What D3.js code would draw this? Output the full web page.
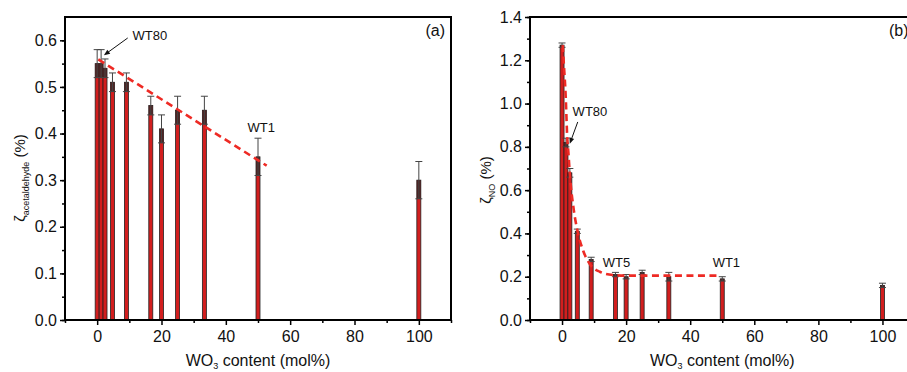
<!DOCTYPE html>
<html>
<head>
<meta charset="utf-8">
<script src="https://cdn.jsdelivr.net/npm/d3@7"></script>
<style>
  body { margin: 0; background: #fff; }
  text { font-family: Arial, 'Liberation Sans', sans-serif; }
</style>
</head>
<body>
<svg width="907" height="372"></svg>
<script>
// WO3 content of the samples (mol%)
const wo3 = [0, 1.23, 2.44, 4.76, 9.09, 16.67, 20, 25, 33.33, 50, 100];

// panel (a): acetaldehyde efficiency
const acetaldehyde = [0.55, 0.55, 0.54, 0.51, 0.51, 0.46, 0.41, 0.45, 0.45, 0.35, 0.30];
const acetaldehydeErr = [0.03, 0.03, 0.02, 0.02, 0.02, 0.02, 0.03, 0.03, 0.03, 0.04, 0.04];
const acetTrend = [[0.35, 0.559], [52.7, 0.331]];

// panel (b): NO efficiency
const no = [1.27, 0.82, 0.68, 0.41, 0.28, 0.21, 0.20, 0.22, 0.20, 0.19, 0.16];
const noErr = [0.01, 0.02, 0.02, 0.01, 0.01, 0.01, 0.01, 0.01, 0.02, 0.01, 0.01];
const noTrend = [[0.2, 1.27], [0.53, 1.19], [1.15, 1.03], [1.6, 0.85], [2.0, 0.77], [2.4, 0.68],
  [3.65, 0.51], [4.7, 0.42], [6.6, 0.32], [8.6, 0.26], [11.8, 0.223], [15.9, 0.208],
  [20, 0.205], [49, 0.205]];

const xTicks = [0, 20, 40, 60, 80, 100];
const xMinor = [-10, 10, 30, 50, 70, 90, 110];

const svg = d3.select('svg');
const red = '#d21e1e';
const dashRed = '#ee2a24';

function drawPanel(o) {
  const x = d3.scaleLinear().domain([-10, 110]).range([o.left, o.right]);
  const y = d3.scaleLinear().domain([0, o.ymax]).range([320, 17]);
  const g = svg.append('g');

  // bars
  g.append('g').selectAll('rect')
      .data(o.values)
      .join('rect')
      .attr('x', (d, i) => x(wo3[i]) - 2)
      .attr('y', d => y(d))
      .attr('width', 4)
      .attr('height', d => y(0) - y(d))
      .attr('fill', red)
      .attr('stroke', '#222')
      .attr('stroke-width', 0.8);

  // error bars
  const eb = g.append('g').selectAll('g')
      .data(o.values.map((v, i) => ({x: wo3[i], v, e: o.errs[i]})))
      .join('g');
  eb.append('rect')
      .attr('x', d => x(d.x) - 2)
      .attr('y', d => y(d.v))
      .attr('width', 4)
      .attr('height', d => y(d.v - d.e) - y(d.v))
      .attr('fill', '#3b2626')
      .attr('opacity', 0.85);
  eb.append('line')
      .attr('x1', d => x(d.x)).attr('x2', d => x(d.x))
      .attr('y1', d => y(d.v - d.e)).attr('y2', d => y(d.v + d.e))
      .attr('stroke', '#444').attr('stroke-width', 1);
  for (const s of [-1, 1]) {
    eb.append('line')
        .attr('x1', d => x(d.x) - 3.5).attr('x2', d => x(d.x) + 3.5)
        .attr('y1', d => y(d.v + s * d.e)).attr('y2', d => y(d.v + s * d.e))
        .attr('stroke', '#444').attr('stroke-width', 1);
  }

  // dashed trend
  g.append('path')
      .datum(o.trend)
      .attr('fill', 'none')
      .attr('stroke', dashRed)
      .attr('stroke-width', 2.6)
      .attr('stroke-dasharray', '7,4.5')
      .attr('d', d3.line().x(d => x(d[0])).y(d => y(d[1])).curve(d3.curveMonotoneX));

  // axes
  const xa = g.append('g').attr('transform', 'translate(0,320)')
      .call(d3.axisBottom(x).tickValues(xTicks).tickSize(5).tickPadding(6));
  const xm = g.append('g').attr('transform', 'translate(0,320)')
      .call(d3.axisBottom(x).tickValues(xMinor).tickSize(3).tickFormat(''));
  const ya = g.append('g').attr('transform', `translate(${o.left},0)`)
      .call(d3.axisLeft(y).tickValues(o.yTicks).tickFormat(d3.format('.1f')).tickSize(5).tickPadding(3));
  const ym = g.append('g').attr('transform', `translate(${o.left},0)`)
      .call(d3.axisLeft(y).tickValues(o.yMinor).tickSize(3).tickFormat(''));
  for (const a of [xa, xm, ya, ym]) {
    a.select('.domain').remove();
    a.selectAll('line').attr('stroke', '#000').attr('stroke-width', 1.5);
    a.selectAll('text').attr('font-size', 16).attr('fill', '#111')
        .attr('font-family', "Arial, 'Liberation Sans', sans-serif");
  }

  // frame
  g.append('rect')
      .attr('x', o.left).attr('y', 17)
      .attr('width', o.right - o.left).attr('height', 303)
      .attr('fill', 'none').attr('stroke', '#000').attr('stroke-width', 2);

  // x title
  const xt = g.append('text')
      .attr('x', (o.left + o.right) / 2).attr('y', 366)
      .attr('text-anchor', 'middle').attr('font-size', 16).attr('fill', '#111');
  xt.append('tspan').text('WO');
  xt.append('tspan').attr('font-size', 9).attr('dy', 3).text('3');
  xt.append('tspan').attr('dy', -3).text(' content (mol%)');

  // y title
  const yt = g.append('text')
      .attr('transform', `translate(${o.yLabelX},${o.yLabelY}) rotate(-90)`)
      .attr('text-anchor', 'middle').attr('font-size', 15).attr('fill', '#111');
  yt.append('tspan').text('ζ');
  yt.append('tspan').attr('font-size', 9).attr('dy', 4).text(o.sub);
  yt.append('tspan').attr('dy', -4).text(' (%)');

  // panel letter
  g.append('text')
      .attr('x', o.right - 6).attr('y', 36)
      .attr('text-anchor', 'end').attr('font-size', 16).attr('fill', '#111')
      .text(o.letter);

  // annotations
  g.append('g').selectAll('text')
      .data(o.notes)
      .join('text')
      .attr('x', d => x(d.x)).attr('y', d => y(d.y))
      .attr('text-anchor', d => d.anchor || 'start')
      .attr('font-size', 13).attr('fill', '#111')
      .text(d => d.text);

  const a = o.arrow;
  const x1 = x(a[0][0]), y1 = y(a[0][1]), x2 = x(a[1][0]), y2 = y(a[1][1]);
  const ang = Math.atan2(y2 - y1, x2 - x1);
  g.append('line')
      .attr('x1', x1).attr('y1', y1)
      .attr('x2', x2 - 4 * Math.cos(ang)).attr('y2', y2 - 4 * Math.sin(ang))
      .attr('stroke', '#111').attr('stroke-width', 1);
  const hl = 6, hw = 2.5;
  const bx = x2 - hl * Math.cos(ang), by = y2 - hl * Math.sin(ang);
  g.append('path')
      .attr('d', `M${x2},${y2}L${bx + hw * Math.sin(ang)},${by - hw * Math.cos(ang)}L${bx - hw * Math.sin(ang)},${by + hw * Math.cos(ang)}Z`)
      .attr('fill', '#111');
}

drawPanel({
  left: 65, right: 451, ymax: 0.65,
  yTicks: d3.range(0, 7).map(i => i / 10),
  yMinor: d3.range(0, 13).map(i => i * 0.05),
  values: acetaldehyde, errs: acetaldehydeErr, trend: acetTrend,
  sub: 'acetaldehyde', yLabelX: 25, yLabelY: 178, letter: '(a)',
  notes: [{x: 11, y: 0.60, text: 'WT80'}, {x: 51, y: 0.403, text: 'WT1', anchor: 'middle'}],
  arrow: [[9.5, 0.605], [2.1, 0.568]]
});

drawPanel({
  left: 530, right: 914.5, ymax: 1.4,
  yTicks: d3.range(0, 8).map(i => i / 5),
  yMinor: d3.range(0, 15).map(i => i / 10),
  values: no, errs: noErr, trend: noTrend,
  sub: 'NO', yLabelX: 491, yLabelY: 180, letter: '(b)',
  notes: [{x: 3.3, y: 0.943, text: 'WT80'}, {x: 12.7, y: 0.245, text: 'WT5'},
          {x: 47, y: 0.245, text: 'WT1'}],
  arrow: [[4.9, 0.915], [2.4, 0.814]]
});
</script>
</body>
</html>
